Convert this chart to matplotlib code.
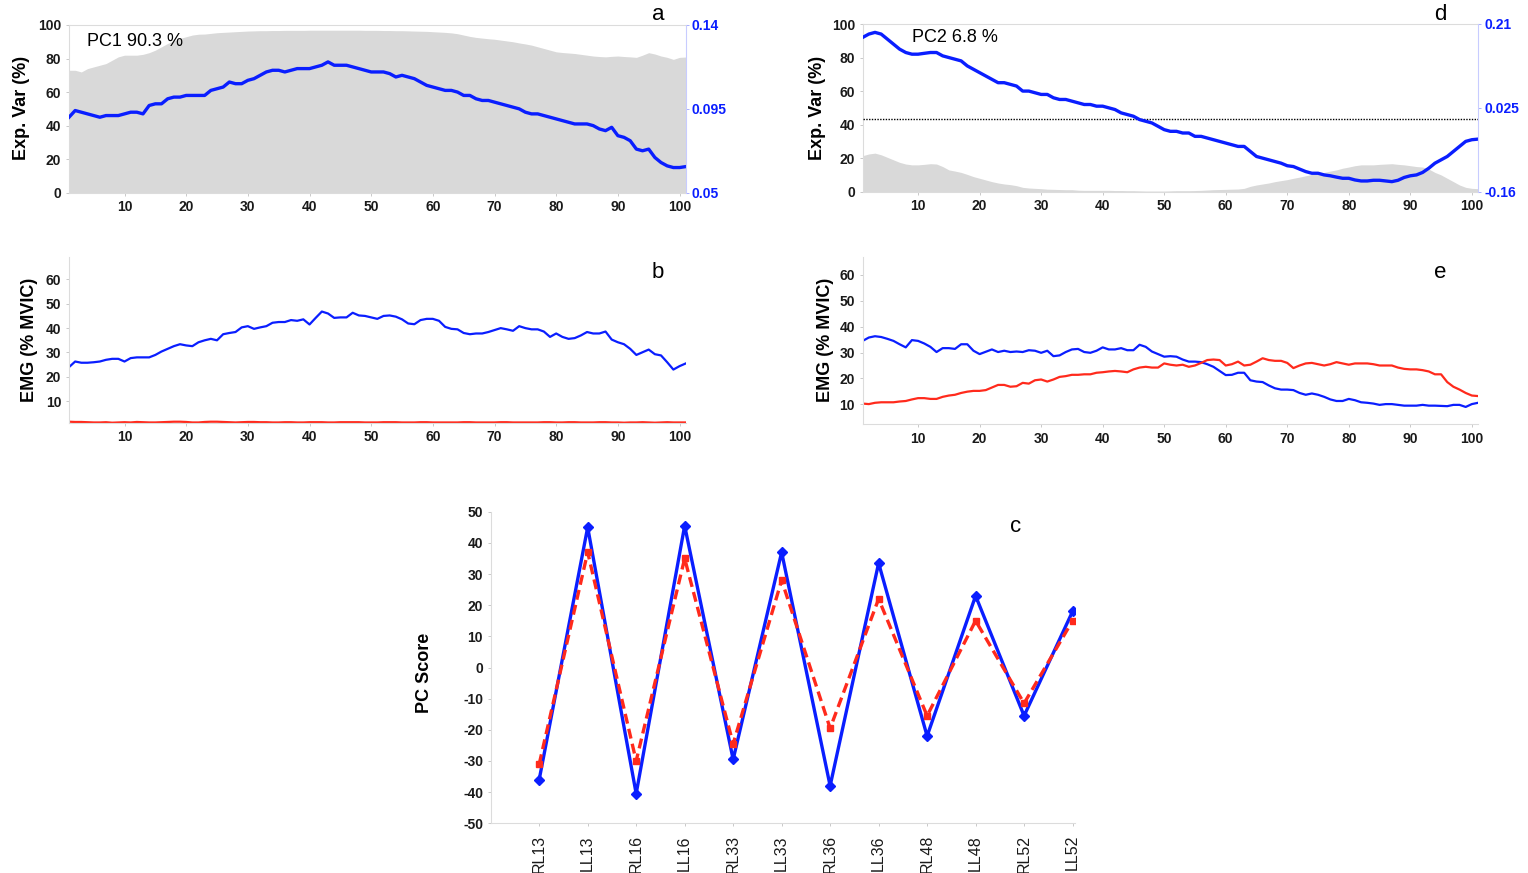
import numpy as np
import matplotlib
matplotlib.use("Agg")
import matplotlib.pyplot as plt

plt.rcParams["font.family"] = ["Liberation Sans", "DejaVu Sans"]
plt.rcParams["axes.unicode_minus"] = False

W, H = 1528, 873

# normalised time (1..101)
frames = np.arange(1, 102)

# PC1: explained variance per frame (%) and loading vector
pc1_var = [
	73, 73, 72, 74, 75, 76, 77, 79, 81, 82,
	82, 82, 82.5, 83.5, 85, 87, 89, 90.5, 92, 93,
	94, 94.5, 94.6, 95, 95.4, 95.6, 95.8, 96, 96.2, 96.4,
	96.5, 96.6, 96.6, 96.7, 96.7, 96.8, 96.8, 96.8, 96.8, 96.9,
	96.9, 96.9, 96.9, 96.9, 96.9, 96.9, 96.9, 96.9, 96.8, 96.8,
	96.8, 96.7, 96.7, 96.6, 96.6, 96.5, 96.4, 96.3, 96.2, 96.0,
	95.8, 95.6, 95.3, 94.8, 94, 93.2, 92.6, 92.2, 91.8, 91.5,
	91, 90.5, 90, 89.3, 88.7, 88, 87, 86, 85, 84,
	83.6, 83.3, 83, 82.5, 82, 81.5, 81.2, 81, 81.3, 81.5,
	81.2, 81, 80.7, 82, 83.5, 82.7, 81.5, 80.7, 79.5, 80.7,
	80.9,
]
pc1_load = [
	0.0905, 0.0941, 0.0932, 0.0923, 0.0914, 0.0905, 0.0914, 0.0914, 0.0914, 0.0923,
	0.0932, 0.0932, 0.0923, 0.0968, 0.0977, 0.0977, 0.1004, 0.1013, 0.1013, 0.1022,
	0.1022, 0.1022, 0.1022, 0.1049, 0.1058, 0.1067, 0.1094, 0.1085, 0.1085, 0.1103,
	0.1112, 0.1130, 0.1148, 0.1157, 0.1157, 0.1148, 0.1157, 0.1166, 0.1166, 0.1166,
	0.1175, 0.1184, 0.1202, 0.1184, 0.1184, 0.1184, 0.1175, 0.1166, 0.1157, 0.1148,
	0.1148, 0.1148, 0.1139, 0.1121, 0.1130, 0.1121, 0.1112, 0.1094, 0.1076, 0.1067,
	0.1058, 0.1049, 0.1049, 0.1040, 0.1022, 0.1022, 0.1004, 0.0995, 0.0995, 0.0986,
	0.0977, 0.0968, 0.0959, 0.0950, 0.0932, 0.0923, 0.0923, 0.0914, 0.0905, 0.0896,
	0.0887, 0.0878, 0.0869, 0.0869, 0.0869, 0.0860, 0.0842, 0.0833, 0.0851, 0.0806,
	0.0797, 0.0779, 0.0734, 0.0725, 0.0734, 0.0689, 0.0662, 0.0644, 0.0635, 0.0635,
	0.0640,
]

# PC2: explained variance per frame (%) and loading vector
pc2_var = [
	21.5, 22.5, 23, 22, 20.5, 19, 17.5, 16.5, 16, 16,
	16.3, 16.7, 16.5, 15, 13, 12.3, 11.5, 10.3, 9, 8,
	7, 6, 5.2, 4.6, 4.2, 3.6, 2.6, 2.2, 2, 1.8,
	1.5, 1.4, 1.3, 1.2, 1.2, 0.9, 0.8, 0.8, 0.8, 0.8,
	0.8, 0.7, 0.7, 0.6, 0.6, 0.5, 0.4, 0.4, 0.4, 0.4,
	0.5, 0.6, 0.6, 0.6, 0.7, 0.8, 1.0, 1.2, 1.3, 1.4,
	1.5, 1.6, 2, 3.2, 4, 4.6, 5.2, 6, 6.6, 7.2,
	8, 8.7, 9.5, 10.3, 11, 11.5, 12.3, 13, 14, 14.7,
	15.5, 16, 16, 16, 16.3, 16.5, 16.7, 16.3, 16, 15.5,
	15, 14.7, 13.5, 11.5, 10, 8, 6, 4, 2.6, 2,
	1.8,
]
pc2_load = [
	0.1804, 0.1878, 0.1915, 0.1878, 0.1767, 0.1656, 0.1545, 0.1471, 0.1434, 0.1434,
	0.1453, 0.1471, 0.1471, 0.1397, 0.1360, 0.1323, 0.1286, 0.1175, 0.1101, 0.1027,
	0.0953, 0.0879, 0.0805, 0.0805, 0.0768, 0.0731, 0.0620, 0.0620, 0.0583, 0.0546,
	0.0546, 0.0472, 0.0435, 0.0435, 0.0398, 0.0361, 0.0324, 0.0324, 0.0287, 0.0287,
	0.0250, 0.0213, 0.0139, 0.0102, 0.0065, -0.0009, -0.0046, -0.0083, -0.0157, -0.0231,
	-0.0268, -0.0268, -0.0305, -0.0305, -0.0379, -0.0379, -0.0416, -0.0453, -0.0490, -0.0527,
	-0.0564, -0.0601, -0.0601, -0.0712, -0.0823, -0.0860, -0.0897, -0.0934, -0.0971, -0.1027,
	-0.1045, -0.1101, -0.1156, -0.1193, -0.1193, -0.1230, -0.1249, -0.1278, -0.1304, -0.1304,
	-0.1341, -0.1363, -0.1363, -0.1348, -0.1348, -0.1363, -0.1378, -0.1348, -0.1286, -0.1249,
	-0.1230, -0.1175, -0.1082, -0.0971, -0.0897, -0.0823, -0.0712, -0.0601, -0.0490, -0.0453,
	-0.0440,
]

# EMG (% MVIC) reconstructed from PC1 (b) and PC2 (e), two conditions each
emg_b_blue = [
	24, 26.3, 25.8, 25.8, 26, 26.3, 27, 27.4, 27.4, 26.3,
	27.7, 28, 28, 28, 29, 30.4, 31.5, 32.6, 33.4, 32.9,
	32.6, 34.2, 35, 35.6, 35, 37.5, 38, 38.4, 40.3, 40.8,
	39.7, 40.3, 40.8, 42.2, 42.5, 42.5, 43.3, 43, 43.6, 41.5,
	44.2, 46.8, 46, 44.2, 44.4, 44.4, 46.3, 45.2, 45, 44.4,
	43.8, 45, 45.2, 44.7, 43.6, 41.9, 41.6, 43.3, 43.8, 43.8,
	43, 40.5, 39.7, 39.5, 38, 37.5, 37.8, 37.8, 38.4, 39.2,
	40, 39.5, 38.9, 40.8, 40, 39.5, 39.5, 38.6, 36.4, 37.8,
	36.4, 35.6, 35.9, 37, 38.4, 37.8, 37.8, 38.6, 35.3, 34.2,
	33.4, 31.5, 29, 30.1, 31.2, 29.3, 28.8, 26, 23, 24.4,
	25.5,
]
emg_b_red = [
	1.6, 1.5, 1.5, 1.4, 1.3, 1.3, 1.4, 1.2, 1.3, 1.4,
	1.3, 1.5, 1.4, 1.3, 1.3, 1.4, 1.5, 1.6, 1.6, 1.5,
	1.3, 1.3, 1.5, 1.6, 1.6, 1.5, 1.4, 1.3, 1.4, 1.5,
	1.5, 1.4, 1.4, 1.3, 1.3, 1.4, 1.4, 1.3, 1.3, 1.4,
	1.4, 1.4, 1.3, 1.3, 1.4, 1.4, 1.4, 1.4, 1.3, 1.3,
	1.3, 1.4, 1.4, 1.4, 1.3, 1.3, 1.3, 1.4, 1.4, 1.3,
	1.3, 1.3, 1.3, 1.3, 1.4, 1.4, 1.3, 1.3, 1.3, 1.3,
	1.4, 1.4, 1.3, 1.3, 1.3, 1.3, 1.3, 1.4, 1.4, 1.3,
	1.3, 1.4, 1.4, 1.3, 1.3, 1.3, 1.4, 1.4, 1.3, 1.3,
	1.2, 1.3, 1.3, 1.4, 1.3, 1.2, 1.3, 1.4, 1.3, 1.3,
	1.3,
]
emg_e_blue = [
	34.5, 35.8, 36.3, 36, 35.3, 34.5, 33.2, 32, 34.8, 34.5,
	33.5, 32.2, 30.2, 31.7, 31.7, 31.4, 33.2, 33.2, 30.7, 29.4,
	30.3, 31.2, 30.2, 30.7, 30.2, 30.4, 30.2, 30.9, 30.7, 29.9,
	30.7, 28.6, 28.9, 30.2, 31.2, 31.4, 30.2, 29.9, 30.7, 32,
	31.2, 31.2, 31.7, 30.9, 30.9, 33, 32.2, 30.4, 29.4, 28.4,
	28.6, 28.4, 27.3, 26.5, 26.5, 26.3, 25.5, 24.5, 22.9, 21.3,
	21.4, 22.2, 22.2, 19.3, 18.8, 18.6, 17.3, 16.2, 15.7, 15.7,
	15.5, 14.4, 13.7, 14.2, 13.7, 12.9, 11.9, 11.3, 11.3, 12.1,
	11.6, 10.8, 10.6, 10.3, 9.8, 10.1, 10.1, 9.8, 9.5, 9.5,
	9.5, 9.8, 9.5, 9.5, 9.4, 9.3, 9.8, 9.8, 9.0, 10.1,
	10.6,
]
emg_e_red = [
	10.3, 10.1, 10.6, 10.8, 10.8, 10.8, 11.1, 11.3, 11.9, 12.4,
	12.4, 12.1, 12.1, 12.9, 13.4, 13.7, 14.4, 14.9, 15.2, 15.2,
	15.5, 16.5, 17.5, 17.5, 16.8, 17, 18.3, 18, 19.3, 19.6,
	18.8, 19.6, 20.6, 20.9, 21.4, 21.4, 21.6, 21.6, 22.2, 22.4,
	22.7, 22.9, 22.7, 22.4, 23.5, 24.2, 24.5, 24.2, 24.2, 25.8,
	25.3, 25, 25.3, 24.5, 25, 26, 27.1, 27.3, 27.1, 25,
	25.5, 26.5, 25, 25.3, 26.5, 27.8, 27.1, 26.8, 26.8, 26,
	24, 25, 25.8, 26, 25.5, 25, 25.5, 26.3, 25.8, 25.3,
	25.8, 25.8, 25.8, 25.5, 25, 25, 25, 24.2, 23.7, 23.5,
	23.5, 23.2, 22.7, 21.6, 21.6, 18.6, 16.8, 15.7, 14.4, 13.4,
	13.2,
]

# PC scores per trial
trials = ["RL13", "LL13", "RL16", "LL16", "RL33", "LL33",
	"RL36", "LL36", "RL48", "LL48", "RL52", "LL52"]
pc1_score = [-36, 45, -40.5, 45.5, -29.5, 37, -38, 33.5, -22, 23, -15.5, 18]
pc2_score = [-31, 37, -30, 35, -24.5, 28, -19.5, 22, -15.5, 15, -11.5, 15]

BLUE = "#0a1eff"
RED = "#ff2a1c"
GRAY = "#d9d9d9"
SPINE = "#dcdcdc"
TICK_FS = 10

fig = plt.figure(figsize=(W / 100, H / 100), dpi=100)


def panel(l, t, r, b):
	return fig.add_axes([l / W, 1 - b / H, (r - l) / W, (b - t) / H])


def style(ax, spines=("left", "bottom")):
	for name, sp in ax.spines.items():
		sp.set_visible(name in spines)
		sp.set_color(SPINE)
		sp.set_linewidth(0.8)
	ax.tick_params(length=2.5, width=0.6, color="#c0c0c0", labelsize=TICK_FS, pad=3)
	for lab in ax.get_xticklabels() + ax.get_yticklabels():
		lab.set_fontweight("bold")
		lab.set_color("#1a1a1a")


def loading_axis(ax, lo, hi, ticks, labels):
	axr = ax.twinx()
	axr.set_ylim(lo, hi)
	axr.set_yticks(ticks)
	axr.set_yticklabels(labels)
	for name, sp in axr.spines.items():
		sp.set_visible(name == "right")
	axr.spines["right"].set_color("#c8ccff")
	axr.spines["right"].set_linewidth(0.8)
	axr.tick_params(length=2.5, width=0.6, color="#9aa2ff", labelsize=TICK_FS, pad=2)
	for lab in axr.get_yticklabels():
		lab.set_fontweight("bold")
		lab.set_color(BLUE)
	return axr


xt = np.arange(10, 101, 10)

# a: PC1 explained variance + loading
ax_a = panel(69, 25, 685.7, 192.7)
ax_a.fill_between(frames, 0, pc1_var, color=GRAY, lw=0)
ax_a.set_xlim(1, 101)
ax_a.set_ylim(0, 100)
ax_a.set_xticks(xt)
ax_a.set_yticks(np.arange(0, 101, 20))
style(ax_a, ("left", "bottom", "top"))
ax_ar = loading_axis(ax_a, 0.05, 0.14, [0.05, 0.095, 0.14], ["0.05", "0.095", "0.14"])
ax_ar.plot(frames, pc1_load, color=BLUE, lw=2.4)

# d: PC2 explained variance + loading
ax_d = panel(862.7, 24, 1478, 191.7)
ax_d.fill_between(frames, 0, pc2_var, color=GRAY, lw=0)
ax_d.set_xlim(1, 101)
ax_d.set_ylim(0, 100)
ax_d.set_xticks(xt)
ax_d.set_yticks(np.arange(0, 101, 20))
style(ax_d, ("left", "bottom", "top"))
ax_dr = loading_axis(ax_d, -0.16, 0.21, [-0.16, 0.025, 0.21], ["-0.16", "0.025", "0.21"])
ax_dr.axhline(0, color="black", lw=1.0, ls=(0, (1, 1)))
ax_dr.plot(frames, pc2_load, color=BLUE, lw=2.4)

# b / e: EMG traces
ax_b = panel(69, 256.7, 685.7, 422.7)
ax_b.plot(frames, emg_b_blue, color=BLUE, lw=1.6)
ax_b.plot(frames, emg_b_red, color=RED, lw=1.6)
ax_b.set_xlim(1, 101)
ax_b.set_ylim(1.2, 69.3)
ax_b.set_xticks(xt)
ax_b.set_yticks(np.arange(10, 61, 10))
style(ax_b)

ax_e = panel(862.7, 256.7, 1478, 424.3)
ax_e.plot(frames, emg_e_blue, color=BLUE, lw=1.6)
ax_e.plot(frames, emg_e_red, color=RED, lw=1.6)
ax_e.set_xlim(1, 101)
ax_e.set_ylim(2.3, 67)
ax_e.set_xticks(xt)
ax_e.set_yticks(np.arange(10, 61, 10))
style(ax_e)

# c: PC scores per trial
ax_c = panel(490.7, 511.7, 1075, 823.3)
idx = np.arange(len(trials))
ax_c.plot(idx, pc1_score, color=BLUE, lw=2.4, marker="D", ms=5.5)
ax_c.plot(idx, pc2_score, color=RED, lw=2.4, ls=(0, (3, 1.6)), marker="s", ms=5)
ax_c.set_xlim(-1, 11.05)
ax_c.set_ylim(-50, 50)
ax_c.set_yticks(np.arange(-50, 51, 10))
ax_c.set_xticks(idx)
ax_c.set_xticklabels(trials, rotation=90)
style(ax_c)
ax_c.tick_params(axis="x", pad=6)
for lab in ax_c.get_xticklabels():
	lab.set_fontweight("normal")
	lab.set_fontsize(11.5)

# annotations
fig.text(87 / W, 1 - 42 / H, "PC1 90.3 %", ha="left", va="center", fontsize=13)
fig.text(912 / W, 1 - 38 / H, "PC2 6.8 %", ha="left", va="center", fontsize=13)
for letter, px, py in [("a", 658, 14), ("b", 658, 272), ("c", 1016, 527),
		("d", 1440, 14), ("e", 1440, 273)]:
	fig.text(px / W, 1 - py / H, letter, ha="center", va="center", fontsize=16)

for label, px, py in [("Exp. Var (%)", 22, 108), ("Exp. Var (%)", 817, 108),
		("EMG (% MVIC)", 30, 340), ("EMG (% MVIC)", 825, 340), ("PC Score", 425, 673)]:
	fig.text(px / W, 1 - py / H, label, ha="center", va="center", rotation=90,
		fontsize=13, fontweight="bold")

fig.savefig("out.png", dpi=100)
